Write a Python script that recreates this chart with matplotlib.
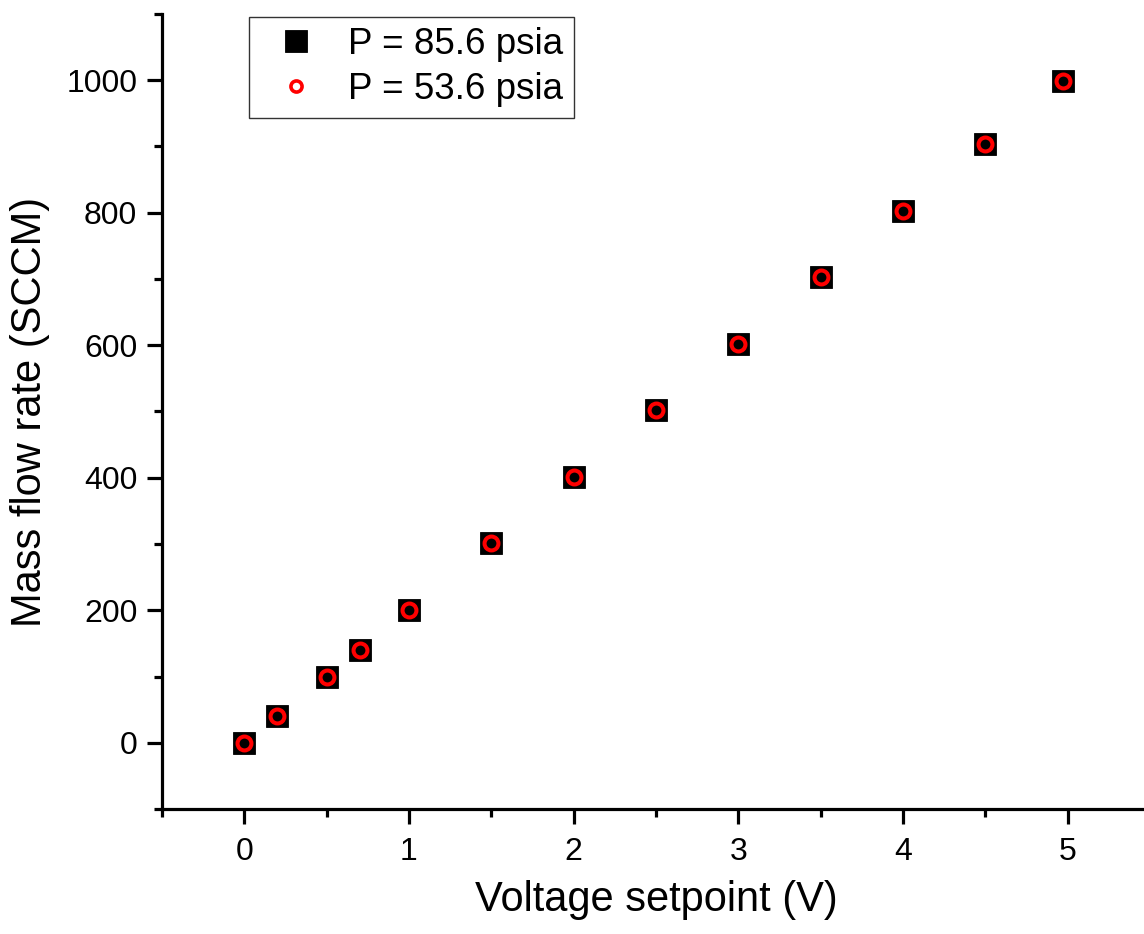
import numpy as np
import matplotlib.pyplot as plt

plt.rcParams["font.family"] = ["Liberation Sans", "DejaVu Sans"]

voltage = np.array([0, 0.2, 0.5, 0.7, 1.0, 1.5, 2.0, 2.5, 3.0, 3.5, 4.0, 4.5, 4.97])
flow_856 = np.array([0, 40, 100, 140, 200, 301, 401, 502, 602, 703, 803, 904, 999])
flow_536 = np.array([0, 40, 100, 140, 200, 301, 401, 502, 602, 703, 803, 904, 999])

fig = plt.figure(figsize=(11.44, 9.34), dpi=100)
ax = fig.add_axes([162 / 1144, 125 / 934, 988 / 1144, 795 / 934])

ax.plot(voltage, flow_856, "s", color="black", markersize=15.5, mec="black",
        mew=0.6, label="P = 85.6 psia", clip_on=False)
ax.plot(voltage, flow_536, "o", mfc="none", mec="red", markersize=10, mew=2.9,
        label="P = 53.6 psia", clip_on=False)

ax.set_xlim(-0.5, 5.5)
ax.set_ylim(-100, 1100)
ax.set_xticks(np.arange(0, 6, 1))
ax.set_xticks(np.arange(-0.5, 5.6, 0.5), minor=True)
ax.set_yticks(np.arange(0, 1001, 200))
ax.set_yticks(np.arange(-100, 1101, 100), minor=True)

ax.spines["top"].set_visible(False)
ax.spines["right"].set_visible(False)
for s in ["left", "bottom"]:
    ax.spines[s].set_linewidth(2.3)

ax.tick_params(which="major", direction="out", length=10.8, width=2.3,
               labelsize=23)
ax.tick_params(axis="y", which="major", pad=7)
ax.tick_params(axis="x", which="major", pad=9)
ax.tick_params(which="minor", direction="out", length=5.8, width=2.3)

ax.set_xlabel("Voltage setpoint (V)", fontsize=30, labelpad=10)
ax.set_ylabel("Mass flow rate (SCCM)", fontsize=30, labelpad=12)

leg = fig.legend(loc="upper left", bbox_to_anchor=(249 / 1144, 1 - 17 / 934),
                 fontsize=26.5, frameon=True, fancybox=False, edgecolor="black",
                 borderpad=0.28, handletextpad=0.42, labelspacing=0.27,
                 handlelength=2.0, borderaxespad=0)
leg.get_frame().set_linewidth(1.0)
leg.legend_handles[0].set_markersize(16)
leg.legend_handles[1].set_markersize(8)
leg.legend_handles[1].set_markeredgewidth(2.6)

fig.savefig("out.png", dpi=100)
